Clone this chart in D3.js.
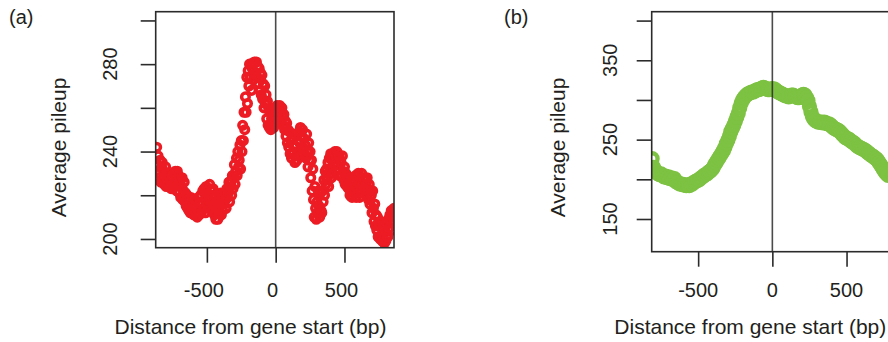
<!DOCTYPE html>
<html><head><meta charset="utf-8">
<script src="https://cdn.jsdelivr.net/npm/d3@7"></script>
<style>
html,body{margin:0;padding:0;background:#fff;}
svg text{font-family:"Liberation Sans",Arial,Helvetica,sans-serif;fill:#231f20;}
</style></head>
<body><svg id="c" width="888" height="342"></svg>
<script>
// ---- data ----
// (a) average pileup, read every 5 bp from -865 to 865
const redStart = -865, redStep = 5;
const redPileup = [
242,234,238,228, 230,236,226,233, 235,227,231,225, 229,233,224,228, 226,230,224,228,
227,223,229,225, 224,230,226,231, 228,222,231,225, 229,221,226,219, 224,228,218,222,
226,217,221,215, 220,214,218,213, 216,212,219,214, 212,217,211,215, 218,211,214,210,
213,219,211,216, 220,212,217,222, 214,223,218,212, 224,216,221,214, 218,225,216,222,
220,213,223,215, 211,219,209,216, 214,209,220,212, 216,221,211,218, 213,220,216,221,
218,214,223,219, 221,226,217,224, 226,220,229,223, 228,234,225,231, 237,229,240,233,
236,243,232,245, 240,252,245,258, 250,265,258,274, 262,277,270,280, 274,280,268,278,
280,273,281,276, 275,281,274,279, 271,278,268,276, 266,275,264,271, 260,270,262,266,
255,263,252,259, 251,258,250,255, 253,259,251,256, 260,254,258,261, 255,260,257,261,
258,254,260,256, 252,257,250,254, 247,253,244,250, 242,249,239,245, 237,246,240,248,
243,235,247,238, 236,245,240,249, 244,251,238,247, 250,241,246,239, 243,237,248,240,
233,244,236,240, 228,236,222,232, 218,210,224,214, 209,217,212,222, 215,210,221,213,
212,222,217,227, 220,231,225,232, 227,235,224,237, 232,239,228,236, 230,239,234,240,
238,231,240,234, 232,238,229,236, 235,229,238,231, 227,233,225,230, 229,224,228,223,
226,220,228,223, 219,226,221,227, 224,229,219,226, 221,230,225,219, 228,222,230,225,
221,228,223,227, 225,220,228,222, 218,225,216,222, 220,212,222,214, 208,216,206,211,
204,210,201,207, 206,200,208,202, 199,206,202,198, 204,199,207,201, 201,209,205,211,
208,213,204,212, 207,214,210];
// (b) average pileup, read every 10 bp from -810 to 780
const greenStart = -810, greenStep = 10;
const greenPileup = [226,215,211,209,207,206,207,205,203,204,202,203,201,202,200,201,197,196,195,194,194,193,193,192,193,192,194,194,196,197,198,199,200,202,203,205,206,207,209,210,212,214,218,221,224,227,230,233,236,240,245,249,254,260,264,268,273,278,283,290,296,300,303,305,307,308,309,310,310,311,312,313,313,314,315,316,315,314,313,313,314,314,314,313,311,310,309,308,307,306,305,305,304,305,306,306,305,304,303,303,304,306,307,306,303,299,292,285,279,276,274,273,272,272,272,271,272,271,270,270,269,267,265,264,263,262,261,259,257,255,253,252,251,250,248,247,246,244,242,241,240,239,238,237,236,234,233,231,230,229,227,226,224,221,218,215,212,209,207,205];
const xTicks = [-500, 0, 500];
const yTicksA = [200, 220, 240, 260, 280, 300];
const yLabelsA = [200, 240, 280];
const yTicksB = [150, 200, 250, 300, 350, 400];
const yLabelsB = [150, 250, 350];
const xTitle = "Distance from gene start (bp)";
const yTitle = "Average pileup";

const svg = d3.select("#c");
const ink = "#2b2b2b";

function panel(o){
  const g = svg.append("g");
  const x = d3.scaleLinear().domain(o.xDomain).range([o.left, o.right]);
  const y = d3.scaleLinear().domain(o.yDomain).range([o.bottom, o.top]);
  const clipId = "clip" + o.id;
  svg.append("clipPath").attr("id", clipId).append("rect")
    .attr("x", o.left).attr("y", o.top).attr("width", o.right - o.left).attr("height", o.bottom - o.top);
  const pts = o.values.map((v,i)=>({x:o.start + i*o.step, v}));
  g.append("g").attr("clip-path", `url(#${clipId})`)
    .selectAll("circle").data(pts).join("circle")
    .attr("cx", d=>x(d.x)).attr("cy", d=>y(d.v))
    .attr("r", o.r).attr("fill","none").attr("stroke", o.color).attr("stroke-width", o.sw);
  // zero line
  g.append("line").attr("x1", x(0)).attr("x2", x(0)).attr("y1", o.top).attr("y2", o.bottom)
    .attr("stroke", ink).attr("stroke-width", 1.6).attr("stroke-opacity", 0.85);
  // box
  g.append("rect").attr("x", o.left).attr("y", o.top).attr("width", o.right-o.left).attr("height", o.bottom-o.top)
    .attr("fill","none").attr("stroke", ink).attr("stroke-width", 1.6);
  // x axis
  const xa = g.append("g").attr("transform", `translate(0,${o.bottom})`)
    .call(d3.axisBottom(x).tickValues(xTicks).tickSize(15).tickPadding(0).tickFormat(""));
  xa.select(".domain").remove();
  xa.selectAll("line").attr("stroke", ink).attr("stroke-width", 1.6);
  g.selectAll(".xl").data(xTicks).join("text")
    .attr("x", d=>x(d)+o.xLabShift).attr("y", 290).attr("text-anchor","middle")
    .attr("dominant-baseline","central").attr("font-size", 20).text(d=>d);
  // y axis
  const ya = g.append("g").attr("transform", `translate(${o.left},0)`)
    .call(d3.axisLeft(y).tickValues(o.yTicks).tickSize(15).tickFormat(""));
  ya.select(".domain").remove();
  ya.selectAll("line").attr("stroke", ink).attr("stroke-width", 1.6);
  g.selectAll(".yl").data(o.yLabels).join("text")
    .attr("transform", d=>`translate(${o.yLabX},${y(d)}) rotate(-90)`)
    .attr("text-anchor","middle").attr("dominant-baseline","central").attr("font-size", 20).text(d=>d);
  // titles
  g.append("text").attr("x", o.xTitleX).attr("y", 326).attr("text-anchor","middle")
    .attr("dominant-baseline","central").attr("font-size", 21).text(xTitle);
  g.append("text").attr("transform", `translate(${o.yTitleX},147.5) rotate(-90)`)
    .attr("text-anchor","middle").attr("dominant-baseline","central").attr("font-size", 21).text(yTitle);
  g.append("text").attr("x", o.tagX).attr("y", 17).attr("dominant-baseline","central")
    .attr("font-size", 20).text(o.tag);
}

panel({id:"a", tag:"(a)", tagX:9, left:155.7, right:394, top:11.7, bottom:247.7,
  xDomain:[-872,860], yDomain:[196,304], values:redPileup, start:redStart, step:redStep,
  color:"#ed1c24", r:3.8, sw:3.5, yTicks:yTicksA, yLabels:yLabelsA, yLabX:110, yTitleX:58,
  xTitleX:250.5, xLabShift:-3});
panel({id:"b", tag:"(b)", tagX:504, left:651.7, right:893, top:11.7, bottom:251.7,
  xDomain:[-813,813], yDomain:[108.8,411.2], values:greenPileup, start:greenStart, step:greenStep,
  color:"#7dc242", r:5.4, sw:4.4, yTicks:yTicksB, yLabels:yLabelsB, yLabX:610, yTitleX:557,
  xTitleX:750.3, xLabShift:0});
</script></body></html>
